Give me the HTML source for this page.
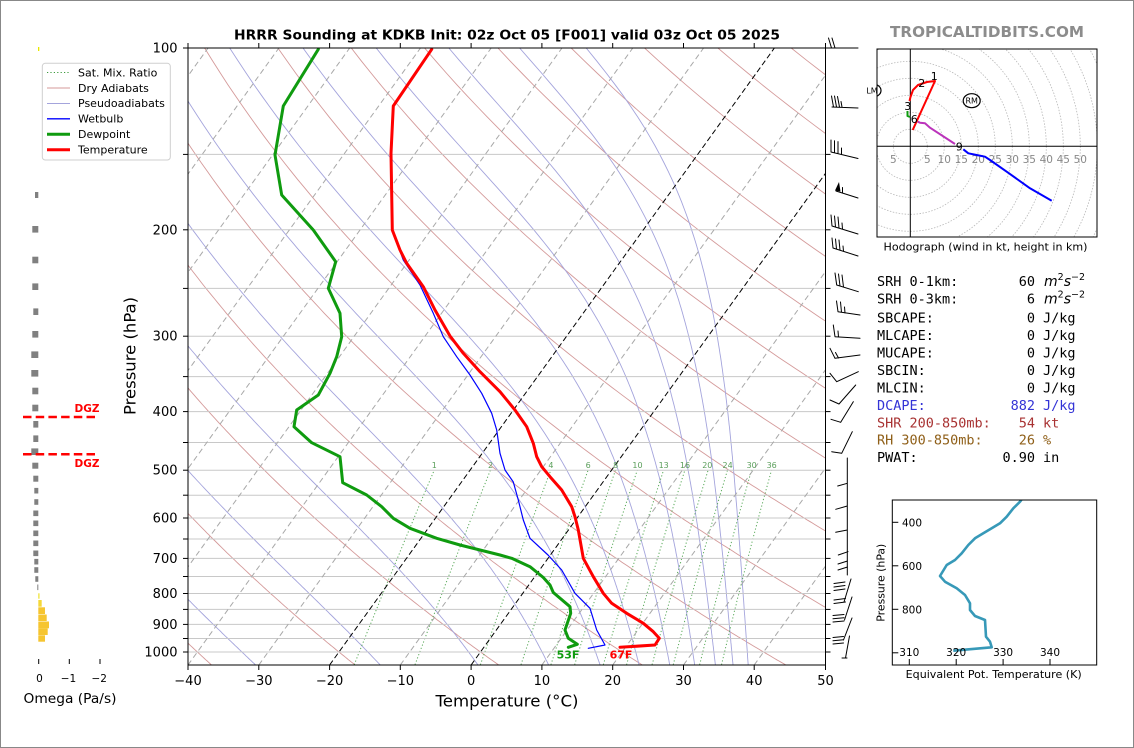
<!DOCTYPE html>
<html><head><meta charset="utf-8"><style>
html,body{margin:0;padding:0;background:#fff;}
svg{display:block;font-family:"DejaVu Sans","Liberation Sans",sans-serif;}
.mono{font-family:"DejaVu Sans Mono","Liberation Mono",monospace;font-size:13.5px;}
</style></head><body>
<svg width="1134" height="748" viewBox="0 0 1134 748" xmlns="http://www.w3.org/2000/svg">
<defs>
<clipPath id="cp"><rect x="188" y="48" width="637.5" height="617"/></clipPath>
<clipPath id="hc"><rect x="877" y="49" width="220" height="188"/></clipPath>
<clipPath id="tc"><rect x="892.3" y="500" width="204.4" height="165"/></clipPath>
</defs>
<rect x="0.5" y="0.5" width="1133" height="747" fill="#fff" stroke="#888" stroke-width="1"/>

<!-- background lines (JS) -->
<g id="bg" clip-path="url(#cp)"></g>

<!-- pressure grid -->
<g stroke="#c8c8c8" stroke-width="1">
<line x1="188" x2="825.5" y1="154.4" y2="154.4"/><line x1="188" x2="825.5" y1="229.8" y2="229.8"/>
<line x1="188" x2="825.5" y1="288.4" y2="288.4"/><line x1="188" x2="825.5" y1="336.2" y2="336.2"/>
<line x1="188" x2="825.5" y1="376.6" y2="376.6"/><line x1="188" x2="825.5" y1="411.6" y2="411.6"/>
<line x1="188" x2="825.5" y1="442.5" y2="442.5"/><line x1="188" x2="825.5" y1="470.2" y2="470.2"/>
<line x1="188" x2="825.5" y1="495.2" y2="495.2"/><line x1="188" x2="825.5" y1="518" y2="518"/>
<line x1="188" x2="825.5" y1="539" y2="539"/><line x1="188" x2="825.5" y1="558.4" y2="558.4"/>
<line x1="188" x2="825.5" y1="576.5" y2="576.5"/><line x1="188" x2="825.5" y1="593.5" y2="593.5"/>
<line x1="188" x2="825.5" y1="609.4" y2="609.4"/><line x1="188" x2="825.5" y1="624.4" y2="624.4"/>
<line x1="188" x2="825.5" y1="638.5" y2="638.5"/><line x1="188" x2="825.5" y1="652" y2="652"/>
</g>

<!-- isotherms -->
<g clip-path="url(#cp)" stroke-width="1" fill="none">
<g stroke="#a8a8a8" stroke-dasharray="5.5,3.5">
<line x1="-236.7" y1="665" x2="208.1" y2="48"/><line x1="-165.9" y1="665" x2="278.9" y2="48"/>
<line x1="-95.1" y1="665" x2="349.7" y2="48"/><line x1="-24.3" y1="665" x2="420.5" y2="48"/>
<line x1="46.4" y1="665" x2="491.2" y2="48"/><line x1="117.2" y1="665" x2="562" y2="48"/>
<line x1="188" y1="665" x2="632.8" y2="48"/><line x1="258.8" y1="665" x2="703.6" y2="48"/>
<line x1="400.3" y1="665" x2="845.1" y2="48"/><line x1="541.9" y1="665" x2="986.7" y2="48"/>
<line x1="612.7" y1="665" x2="1057.5" y2="48"/><line x1="683.5" y1="665" x2="1128.3" y2="48"/>
<line x1="754.2" y1="665" x2="1199" y2="48"/>
</g>
<g stroke="#000" stroke-dasharray="5.5,3">
<line x1="329.6" y1="665" x2="774.4" y2="48"/><line x1="471.1" y1="665" x2="915.9" y2="48"/>
</g>
</g>

<!-- mixing ratio labels -->
<g font-size="8" fill="#5a9e5a" text-anchor="middle">
<text x="434.3" y="468">1</text><text x="490.5" y="468">2</text><text x="550.9" y="468">4</text>
<text x="588.2" y="468">6</text><text x="615.7" y="468">8</text><text x="637.5" y="468">10</text>
<text x="663.7" y="468">13</text><text x="685" y="468">16</text><text x="707.3" y="468">20</text>
<text x="727.6" y="468">24</text><text x="751.7" y="468">30</text><text x="771.7" y="468">36</text>
</g>

<!-- profiles -->
<g fill="none" stroke-linejoin="round" stroke-linecap="round" clip-path="url(#cp)">
<polyline stroke="#0000ff" stroke-width="1.2" points="431.7,49.3 393.3,106 391,153.3 392,230 403.3,260 420,285 433.3,313.3 443.3,336.7 456.7,356.7 470,375 481.7,393.3 491.7,413.3 496.7,430 500,453.3 505,470 513.3,482 518.3,500 523.3,520 530,538.3 548,555 561.7,570 575,593.3 590,608.3 596.7,630 605,645 588.3,648.3"/>
<polyline stroke="#0f9b0f" stroke-width="3" points="318.3,49.3 283.3,106 275,155 281.7,195 313.3,230 335.7,261.7 328.3,288.3 340,313.3 341.7,336.7 336.7,356.7 330,373.3 318.3,395 296.7,410 294,426.7 311.7,442.7 340,456.7 342.7,482.7 366.7,495 381.7,506.7 393.3,518.3 410,528.3 436.7,538.3 460,545 480,550 500,555 511.7,558.3 530,566.7 543.3,577.5 550,585 553.3,592.5 570,606.7 570.7,613.3 565,630 568.3,638.3 577.3,644.3 568.3,647.3"/>
<polyline stroke="#ff0000" stroke-width="3" points="431.7,49.3 393.3,106 391,153.3 392.3,230 400,250 406.7,263.3 423.3,286.7 435,310 450,336 463.3,353.3 480,371.7 500,391.7 515,410 526.7,426.7 533.3,443.3 536.7,456.7 541.7,466.7 550,476.7 561.7,490 571.7,506.7 575,516.7 578.3,530 583.3,558.3 593.3,576.7 603.3,593.3 611.7,603.3 626.7,613.3 643.3,623.3 653.3,631.7 659.3,638.3 655,645 620,647.3"/>
</g>
<text x="568" y="658.5" font-size="11" font-weight="bold" fill="#0f9b0f" text-anchor="middle">53F</text>
<text x="621" y="658.5" font-size="11" font-weight="bold" fill="#ff0000" text-anchor="middle">67F</text>

<!-- spines -->
<rect x="188" y="48" width="637.5" height="617" fill="none" stroke="#000" stroke-width="1"/>

<!-- ticks -->
<g stroke="#000" stroke-width="1">
<line x1="183" x2="188" y1="48" y2="48"/><line x1="183" x2="188" y1="154.4" y2="154.4"/><line x1="183" x2="188" y1="229.8" y2="229.8"/><line x1="183" x2="188" y1="288.4" y2="288.4"/><line x1="183" x2="188" y1="336.2" y2="336.2"/><line x1="183" x2="188" y1="376.6" y2="376.6"/><line x1="183" x2="188" y1="411.6" y2="411.6"/><line x1="183" x2="188" y1="442.5" y2="442.5"/><line x1="183" x2="188" y1="470.2" y2="470.2"/><line x1="183" x2="188" y1="495.2" y2="495.2"/><line x1="183" x2="188" y1="518" y2="518"/><line x1="183" x2="188" y1="539" y2="539"/><line x1="183" x2="188" y1="558.4" y2="558.4"/><line x1="183" x2="188" y1="576.5" y2="576.5"/><line x1="183" x2="188" y1="593.5" y2="593.5"/><line x1="183" x2="188" y1="609.4" y2="609.4"/><line x1="183" x2="188" y1="624.4" y2="624.4"/><line x1="183" x2="188" y1="638.5" y2="638.5"/><line x1="183" x2="188" y1="652" y2="652"/>
<line x1="825.5" x2="830.5" y1="48" y2="48"/><line x1="825.5" x2="830.5" y1="154.4" y2="154.4"/><line x1="825.5" x2="830.5" y1="229.8" y2="229.8"/><line x1="825.5" x2="830.5" y1="288.4" y2="288.4"/><line x1="825.5" x2="830.5" y1="336.2" y2="336.2"/><line x1="825.5" x2="830.5" y1="376.6" y2="376.6"/><line x1="825.5" x2="830.5" y1="411.6" y2="411.6"/><line x1="825.5" x2="830.5" y1="442.5" y2="442.5"/><line x1="825.5" x2="830.5" y1="470.2" y2="470.2"/><line x1="825.5" x2="830.5" y1="495.2" y2="495.2"/><line x1="825.5" x2="830.5" y1="518" y2="518"/><line x1="825.5" x2="830.5" y1="539" y2="539"/><line x1="825.5" x2="830.5" y1="558.4" y2="558.4"/><line x1="825.5" x2="830.5" y1="576.5" y2="576.5"/><line x1="825.5" x2="830.5" y1="593.5" y2="593.5"/><line x1="825.5" x2="830.5" y1="609.4" y2="609.4"/><line x1="825.5" x2="830.5" y1="624.4" y2="624.4"/><line x1="825.5" x2="830.5" y1="638.5" y2="638.5"/><line x1="825.5" x2="830.5" y1="652" y2="652"/>
<line x1="188" x2="188" y1="665" y2="670"/><line x1="258.8" x2="258.8" y1="665" y2="670"/><line x1="329.6" x2="329.6" y1="665" y2="670"/><line x1="400.3" x2="400.3" y1="665" y2="670"/><line x1="471.1" x2="471.1" y1="665" y2="670"/><line x1="541.9" x2="541.9" y1="665" y2="670"/><line x1="612.7" x2="612.7" y1="665" y2="670"/><line x1="683.5" x2="683.5" y1="665" y2="670"/><line x1="754.2" x2="754.2" y1="665" y2="670"/><line x1="825.5" x2="825.5" y1="665" y2="670"/>
<line x1="188" x2="188" y1="43" y2="48"/><line x1="258.8" x2="258.8" y1="43" y2="48"/><line x1="329.6" x2="329.6" y1="43" y2="48"/><line x1="400.3" x2="400.3" y1="43" y2="48"/><line x1="471.1" x2="471.1" y1="43" y2="48"/><line x1="541.9" x2="541.9" y1="43" y2="48"/><line x1="612.7" x2="612.7" y1="43" y2="48"/><line x1="683.5" x2="683.5" y1="43" y2="48"/><line x1="754.2" x2="754.2" y1="43" y2="48"/><line x1="825.5" x2="825.5" y1="43" y2="48"/>
</g>

<!-- tick labels -->
<g font-size="13" fill="#000" text-anchor="end">
<text x="177.5" y="52.5">100</text><text x="177.5" y="234.3">200</text><text x="177.5" y="340.7">300</text><text x="177.5" y="416.1">400</text><text x="177.5" y="474.7">500</text><text x="177.5" y="522.5">600</text><text x="177.5" y="562.9">700</text><text x="177.5" y="598">800</text><text x="177.5" y="628.9">900</text><text x="177.5" y="656.5">1000</text>
</g>
<g font-size="13" fill="#000" text-anchor="middle">
<text x="188" y="685">−40</text><text x="258.8" y="685">−30</text><text x="329.6" y="685">−20</text><text x="400.3" y="685">−10</text><text x="471.1" y="685">0</text><text x="541.9" y="685">10</text><text x="612.7" y="685">20</text><text x="683.5" y="685">30</text><text x="754.2" y="685">40</text><text x="825.5" y="685">50</text>
</g>
<text x="507" y="706.5" font-size="16" text-anchor="middle" textLength="143" lengthAdjust="spacingAndGlyphs">Temperature (°C)</text>
<text transform="translate(135.5,356) rotate(-90)" font-size="16" text-anchor="middle" textLength="118" lengthAdjust="spacingAndGlyphs">Pressure (hPa)</text>
<text x="507" y="39.5" font-size="13" font-weight="bold" text-anchor="middle" textLength="546" lengthAdjust="spacingAndGlyphs">HRRR Sounding at KDKB Init: 02z Oct 05 [F001] valid 03z Oct 05 2025</text>

<!-- legend -->
<rect x="42.3" y="63.3" width="128" height="96.7" rx="3" fill="#fff" fill-opacity="0.85" stroke="#cfcfcf" stroke-width="1"/>
<line x1="47" x2="70" y1="72.5" y2="72.5" stroke="#3c9a3c" stroke-dasharray="1.2,2.2"/>
<line x1="47" x2="70" y1="88" y2="88" stroke="#d49a9a" stroke-width="1"/>
<line x1="47" x2="70" y1="103.5" y2="103.5" stroke="#a4a4dc" stroke-width="1"/>
<line x1="47" x2="70" y1="118.8" y2="118.8" stroke="#0000ff" stroke-width="1.3"/>
<line x1="47" x2="70" y1="134.3" y2="134.3" stroke="#0f9b0f" stroke-width="3"/>
<line x1="47" x2="70" y1="149.8" y2="149.8" stroke="#ff0000" stroke-width="3"/>
<g font-size="11" fill="#000">
<text x="78" y="76.3">Sat. Mix. Ratio</text><text x="78" y="91.8">Dry Adiabats</text><text x="78" y="107.2">Pseudoadiabats</text><text x="78" y="122.6">Wetbulb</text><text x="78" y="138.1">Dewpoint</text><text x="78" y="153.6">Temperature</text>
</g>

<!-- omega panel -->
<rect x="38" y="47" width="1.3" height="4" fill="#e8e800"/>
<g fill="#808080">
<rect x="35" y="192" width="3.3" height="6"/><rect x="32.3" y="226" width="6" height="6.6"/><rect x="32.3" y="256.7" width="6" height="6.6"/><rect x="32.3" y="283.4" width="6" height="6.6"/><rect x="33.3" y="308.4" width="5" height="6.6"/><rect x="32.3" y="331" width="6" height="6.6"/><rect x="31.3" y="351.4" width="7" height="6.6"/><rect x="31.3" y="370" width="7" height="6.6"/><rect x="32.3" y="387.7" width="6" height="6.6"/><rect x="32.3" y="404.7" width="6" height="6.6"/><rect x="33.3" y="421" width="5" height="6.6"/><rect x="33.3" y="435.4" width="5" height="6.6"/><rect x="31.3" y="448.4" width="7" height="6.6"/><rect x="32.3" y="462.7" width="6" height="6"/><rect x="33.3" y="475.7" width="5" height="6"/><rect x="34.3" y="487.9" width="4" height="5.6"/><rect x="34.3" y="499.2" width="4" height="5.6"/><rect x="33.3" y="510.5" width="5" height="5.6"/><rect x="33.3" y="520.5" width="5" height="5.6"/><rect x="33.3" y="530.5" width="5" height="5.6"/><rect x="33.3" y="540.5" width="5" height="5.6"/><rect x="33.3" y="550.5" width="5" height="5.6"/><rect x="34.3" y="558.9" width="4" height="5.6"/><rect x="34.3" y="567.2" width="4" height="5.6"/><rect x="35.3" y="576.2" width="3" height="5.6"/><rect x="37.3" y="584.5" width="1" height="5.6"/>
</g>
<rect x="38.3" y="593.3" width="1.2" height="5.4" fill="#eee22a"/>
<rect x="38.3" y="600" width="3.4" height="6.7" fill="#f4d83a"/>
<g fill="#f6c530">
<rect x="38.3" y="607.3" width="6.7" height="6.7"/><rect x="38.3" y="614.5" width="8.4" height="6.5"/><rect x="38.3" y="621.5" width="10.7" height="6.8"/><rect x="38.3" y="628.3" width="9.4" height="6.7"/><rect x="38.3" y="635.3" width="6.7" height="6.4"/>
</g>
<g stroke="#ff0000" stroke-width="2.5" stroke-dasharray="8.5,4.2">
<line x1="23" x2="99" y1="417" y2="417"/><line x1="23" x2="99" y1="454.3" y2="454.3"/>
</g>
<g font-size="10.5" font-weight="bold" fill="#ff0000" text-anchor="end">
<text x="99.5" y="412">DGZ</text><text x="99.5" y="467">DGZ</text>
</g>
<g stroke="#000" stroke-width="1">
<line x1="38.7" x2="38.7" y1="659" y2="664"/><line x1="69.3" x2="69.3" y1="659" y2="664"/><line x1="100" x2="100" y1="659" y2="664"/>
</g>
<g font-size="10.5" text-anchor="middle" fill="#000">
<text x="39.5" y="682">0</text><text x="68.5" y="682">−1</text><text x="99.2" y="682">−2</text>
</g>
<text x="70" y="703" font-size="13" text-anchor="middle" textLength="93" lengthAdjust="spacingAndGlyphs">Omega (Pa/s)</text>

<!-- wind barbs -->
<g stroke="#000" stroke-width="1" fill="none" stroke-linecap="round">
<path d="M828,48 L858,48 M831.5,48 L828.5,38 M835,48 L832,38"/>
<path d="M832,107 L858,108 M833.5,107 L831.5,96 M836.5,107 L834.5,96 M839.5,107 L837.5,96.5 M842,107 L841,101.5"/>
<path d="M831,152 L858,158.5 M831,152 L831,140 M834.5,152.8 L834.5,140.8 M838,153.6 L838,141.6 M841.5,154.4 L841.5,148"/>
<path d="M836,191 L858,198 M842.5,192.5 L842.5,187.5"/>
<path d="M832,226 L858,234 M832,226 L831,215 M835.5,227 L834.5,216 M839,228 L838,217 M842.5,229 L842,223"/>
<path d="M833,248 L858,256 M833,248 L832,238 M836.5,249 L835.5,239 M840,250 L839,240 M843.5,251 L843,246"/>
<path d="M836.7,285 L858.3,291.7 M836.7,285 L835,273 M840,286 L838.5,274 M843.5,287 L842,275"/>
<path d="M838,311.7 L860,315 M838,311.7 L836.5,301 M841.5,312.3 L840.5,302 M845,313 L844.5,307"/>
<path d="M835,336.7 L860,338.3 M835,336.7 L833.3,325 M838.5,337 L838,331"/>
<path d="M835,358.3 L860,355 M835,358.3 L830,348.3 M838.5,358 L835.5,352.5"/>
<path d="M836.7,381.7 L858.3,371.7 M836.7,381.7 L830,373.3"/>
<path d="M839,404 L855.7,385 M839,404 L830,400"/>
<path d="M840.7,422.3 L853.3,401.7 M840.7,422.3 L831,419.3"/>
<path d="M841.7,453.3 L852.3,431.7 M841.7,453.3 L831.7,451.7"/>
<path d="M847.3,458 L847.3,575 M847.3,483.3 L837.7,486 M847.3,506 L835.7,509.3 M847.3,530 L835.7,532.3 M848,551.7 L838.3,555 M847.5,561 L838,564 M847.5,567 L838,570"/>
<path d="M851,579 L844,602 M852,597 L844.5,620 M852,618 L843.5,640 M849.5,636 L845.5,658 M842,658 L847,658"/>
<path d="M845,582 L834,583.5 M845,585.5 L834,587 M845,589 L834,590.5 M845.5,598.5 L834,600 M845.5,602 L834,603.5"/>
<path d="M844,614.5 L833,615.5 M844,617.8 L833,618.8 M844,621 L833,622 M843.5,636.5 L833,637.5 M843.5,639.8 L833,640.8 M843.5,643 L833,644"/>
</g>
<polygon points="835,190.5 839,182 840.5,191.5" fill="#000"/>

<!-- watermark -->
<text x="987" y="37" font-size="15" font-weight="bold" fill="#8c8c8c" text-anchor="middle" textLength="194" lengthAdjust="spacingAndGlyphs">TROPICALTIDBITS.COM</text>

<!-- hodograph -->
<g clip-path="url(#hc)">
<g fill="none" stroke="#b8b8b8" stroke-width="0.8" stroke-dasharray="1.5,1.5">
<circle cx="910.3" cy="146.3" r="17"/><circle cx="910.3" cy="146.3" r="34"/><circle cx="910.3" cy="146.3" r="51"/><circle cx="910.3" cy="146.3" r="68"/><circle cx="910.3" cy="146.3" r="85"/><circle cx="910.3" cy="146.3" r="102"/><circle cx="910.3" cy="146.3" r="119"/><circle cx="910.3" cy="146.3" r="136"/><circle cx="910.3" cy="146.3" r="153"/><circle cx="910.3" cy="146.3" r="170"/><circle cx="910.3" cy="146.3" r="187"/><circle cx="910.3" cy="146.3" r="204"/>
</g>
<ellipse cx="873" cy="90.5" rx="8" ry="6.5" fill="none" stroke="#000" stroke-width="1.2"/>
</g>
<line x1="910.3" x2="910.3" y1="49" y2="237" stroke="#000" stroke-width="1"/>
<line x1="877" x2="1097" y1="146.3" y2="146.3" stroke="#000" stroke-width="1"/>
<g font-size="10.5" fill="#888" text-anchor="middle">
<text x="893.3" y="163">5</text><text x="927.3" y="163">5</text><text x="944.3" y="163">10</text><text x="961.3" y="163">15</text><text x="978.3" y="163">20</text><text x="995.3" y="163">25</text><text x="1012.3" y="163">30</text><text x="1029.3" y="163">35</text><text x="1046.3" y="163">40</text><text x="1063.3" y="163">45</text><text x="1080.3" y="163">50</text>
</g>
<g fill="none" stroke-width="2" stroke-linejoin="round">
<polyline stroke="#ff0000" points="912.7,130 935,81 927,82 918,85 913,90 910.5,97 909.5,101"/>
<polyline stroke="#0f9b0f" points="907.5,111 907.5,116 910,117"/>
<polyline stroke="#bb33bb" points="917.7,121.7 920,122.7 925,123.3 930,127.7 955,144"/>
<polyline stroke="#0000ff" points="963.3,149.3 968.3,153.3 976.7,155 985,156.7 990,160 1006.7,171.7 1030,188.3 1051.7,200.7"/>
</g>
<g font-size="11" fill="#000" text-anchor="middle">
<text x="934.3" y="80">1</text><text x="921.7" y="87">2</text><text x="907.7" y="110">3</text><text x="914.3" y="123">6</text><text x="959.3" y="150.5">9</text>
</g>
<text x="872" y="93.5" font-size="8" text-anchor="middle">LM</text>
<ellipse cx="971.7" cy="100.7" rx="8.5" ry="7" fill="none" stroke="#000" stroke-width="1.2"/>
<text x="971.7" y="103.7" font-size="8" text-anchor="middle">RM</text>
<rect x="877" y="49" width="220" height="188" fill="none" stroke="#000" stroke-width="1"/>
<text x="985.5" y="250.7" font-size="10.5" text-anchor="middle" textLength="204" lengthAdjust="spacingAndGlyphs">Hodograph (wind in kt, height in km)</text>

<!-- indices -->
<g class="mono" fill="#000">
<text x="877" y="286">SRH 0-1km:</text><text x="1035" y="286" text-anchor="end">60</text>
<text x="877" y="303.3">SRH 0-3km:</text><text x="1035" y="303.3" text-anchor="end">6</text>
<text x="877" y="322.7">SBCAPE:</text><text x="1035" y="322.7" text-anchor="end">0</text><text x="1043" y="322.7">J/kg</text>
<text x="877" y="340">MLCAPE:</text><text x="1035" y="340" text-anchor="end">0</text><text x="1043" y="340">J/kg</text>
<text x="877" y="357.3">MUCAPE:</text><text x="1035" y="357.3" text-anchor="end">0</text><text x="1043" y="357.3">J/kg</text>
<text x="877" y="375">SBCIN:</text><text x="1035" y="375" text-anchor="end">0</text><text x="1043" y="375">J/kg</text>
<text x="877" y="392.7">MLCIN:</text><text x="1035" y="392.7" text-anchor="end">0</text><text x="1043" y="392.7">J/kg</text>
<g fill="#3434d6"><text x="877" y="410">DCAPE:</text><text x="1035" y="410" text-anchor="end">882</text><text x="1043" y="410">J/kg</text></g>
<g fill="#a83232"><text x="877" y="427.3">SHR 200-850mb:</text><text x="1035" y="427.3" text-anchor="end">54</text><text x="1043" y="427.3">kt</text></g>
<g fill="#8f5f18"><text x="877" y="444.3">RH 300-850mb:</text><text x="1035" y="444.3" text-anchor="end">26</text><text x="1043" y="444.3">%</text></g>
<text x="877" y="462">PWAT:</text><text x="1035" y="462" text-anchor="end">0.90</text><text x="1043" y="462">in</text>
</g>
<g font-size="14" font-style="italic" fill="#000">
<text x="1044" y="286">m<tspan dy="-6" font-size="9.5" font-style="normal">2</tspan><tspan dy="6">s</tspan><tspan dy="-6" font-size="9.5" font-style="normal">−2</tspan></text>
<text x="1044" y="303.3">m<tspan dy="-6" font-size="9.5" font-style="normal">2</tspan><tspan dy="6">s</tspan><tspan dy="-6" font-size="9.5" font-style="normal">−2</tspan></text>
</g>

<!-- theta-e plot -->
<polyline clip-path="url(#tc)" fill="none" stroke="#3799b8" stroke-width="2.6" stroke-linejoin="round" points="1022,499 1020,501.7 1013.3,508.3 1006.7,516.7 1000,523.3 991.7,528.3 983.3,533.3 975,538.3 968.3,545 961.7,553.3 955,560 946.7,565 940,576 945,581.7 956.7,588.3 965,595 970,603.3 970,610 975,616 985,620 986,636.7 990,641.7 991.7,647.3 953.3,650.7"/>
<rect x="892.3" y="500" width="204.4" height="165" fill="none" stroke="#000" stroke-width="1"/>
<g stroke="#000" stroke-width="1">
<line x1="892.3" x2="898.3" y1="522.3" y2="522.3"/><line x1="892.3" x2="898.3" y1="565.8" y2="565.8"/><line x1="892.3" x2="898.3" y1="609.3" y2="609.3"/><line x1="892.3" x2="898.3" y1="652.8" y2="652.8"/>
<line x1="909.3" x2="909.3" y1="659" y2="665"/><line x1="956.2" x2="956.2" y1="659" y2="665"/><line x1="1003.1" x2="1003.1" y1="659" y2="665"/><line x1="1050" x2="1050" y1="659" y2="665"/>
</g>
<g font-size="10.5" fill="#000">
<text x="902" y="526.3">400</text><text x="902" y="569.8">600</text><text x="902" y="613.3">800</text>
</g>
<g font-size="10.5" fill="#000" text-anchor="middle">
<text x="909.3" y="656">310</text><text x="956.2" y="656">320</text><text x="1003.1" y="656">330</text><text x="1050" y="656">340</text>
</g>
<text transform="translate(884.5,582.7) rotate(-90)" font-size="10.5" text-anchor="middle" textLength="78" lengthAdjust="spacingAndGlyphs">Pressure (hPa)</text>
<text x="993.7" y="678" font-size="10.5" text-anchor="middle" textLength="176" lengthAdjust="spacingAndGlyphs">Equivalent Pot. Temperature (K)</text>
</svg>
<script>
(function(){
var NS="http://www.w3.org/2000/svg",g=document.getElementById("bg");
if(!g)return;
function Y(p){return 48+604*Math.log(p/100)/Math.LN10;}
function X(T,p){return 188+(T+40)*7.078+(665-Y(p))*0.722;}
function add(d,s,w,da,op){var e=document.createElementNS(NS,"path");e.setAttribute("d",d);e.setAttribute("fill","none");e.setAttribute("stroke",s);e.setAttribute("stroke-width",w);if(da)e.setAttribute("stroke-dasharray",da);if(op)e.setAttribute("stroke-opacity",op);g.appendChild(e);}
var P=[],p,i,d,th,k,j;
for(p=1050;p>100;p-=5)P.push(p);P.push(100);
for(th=-40;th<=260;th+=20){d="";for(i=0;i<P.length;i++){var T=(th+273.15)*Math.pow(P[i]/1000,0.2857)-273.15;d+=(i?"L":"M")+X(T,P[i]).toFixed(1)+" "+Y(P[i]).toFixed(1);}add(d,"#d49a9a",0.9);}
function es(c){return 6.112*Math.exp(17.67*c/(c+243.5));}
function te(K,pp){var e=es(K-273.15);if(e>0.5*pp)return 1e9;var r=0.622*e/(pp-e);return K*Math.pow(1000/pp,0.2857)*Math.exp(2.501e6*r/(1005.7*K));}
for(th=240;th<=440;th+=20){d="";for(i=0;i<P.length;i++){var lo=120,hi=340;for(k=0;k<40;k++){var m=(lo+hi)/2;if(te(m,P[i])>th)hi=m;else lo=m;}d+=(i?"L":"M")+X(lo-273.15,P[i]).toFixed(1)+" "+Y(P[i]).toFixed(1);}add(d,"#a4a4dc",0.9);}
var W=[1,2,4,6,8,10,13,16,20,24,30,36];
for(j=0;j<W.length;j++){d="";var n=0;for(i=0;i<P.length;i++){p=P[i];if(p<500)break;var e=W[j]*p/(622+W[j]);var L=Math.log(e/6.112);var Td=243.5*L/(17.67-L);d+=(n++?"L":"M")+X(Td,p).toFixed(1)+" "+Y(p).toFixed(1);}add(d,"#3c9a3c",1,"1.2,2.2",0.85);}
})();
</script>
</body></html>
